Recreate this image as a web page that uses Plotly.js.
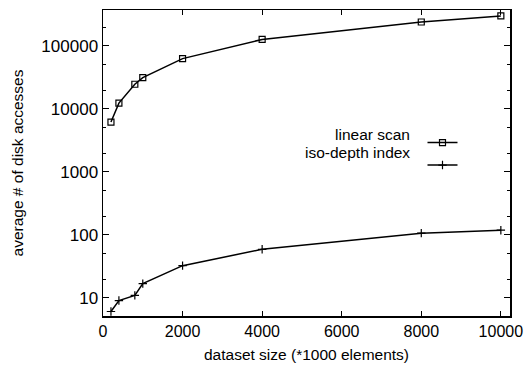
<!DOCTYPE html>
<html><head><meta charset="utf-8">
<script src="https://cdn.plot.ly/plotly-3.0.1.min.js"></script>
<style>html,body{margin:0;padding:0;background:#fff}</style>
</head><body><div id="chart" style="width:527px;height:368px"></div>
<script>
var sizes = [200, 400, 800, 1000, 2000, 4000, 8000, 10000];
var linearScan = [6200, 12400, 24700, 31500, 63000, 127000, 240000, 300000];
var isoDepth = [6.1, 9.1, 11.0, 16.9, 32.6, 59.3, 107, 119];
var seriesNames = ["linear scan", "iso-depth index"];
var xTicks = [0, 2000, 4000, 6000, 8000, 10000];
var yTicks = [10, 100, 1000, 10000, 100000];

var font = "Liberation Sans, Arial, Helvetica, sans-serif";
var traces = [
  {x: sizes, y: linearScan, name: " ", mode: "lines+markers", type: "scatter",
   line: {color: "#000", width: 1.5},
   marker: {symbol: "square-open", size: 6, color: "#000", line: {width: 1.2, color: "#000"}}},
  {x: sizes, y: isoDepth, name: " ", mode: "lines+markers", type: "scatter",
   line: {color: "#000", width: 1.5},
   marker: {symbol: "cross-thin-open", size: 6, color: "#000", line: {width: 1.2, color: "#000"}}}
];
var layout = {
  width: 527, height: 368,
  margin: {l: 103, r: 17, t: 10, b: 52},
  paper_bgcolor: "#fff", plot_bgcolor: "#fff",
  font: {family: font, size: 15, color: "#000"},
  showlegend: true,
  legend: {x: 0.785, y: 0.62, xanchor: "left", yanchor: "top", bgcolor: "rgba(0,0,0,0)",
           font: {size: 15}, tracegroupgap: 0, itemwidth: 30},
  xaxis: {range: [0, 10230], tickvals: xTicks, ticktext: xTicks.map(String),
          ticks: "inside", ticklen: 5, tickcolor: "#000", showgrid: false, zeroline: false,
          showline: true, linecolor: "#000", linewidth: 1.5, mirror: "ticks",
          tickfont: {size: 16}, title: {text: "dataset size (*1000 elements)", font: {size: 15.5}, standoff: 10}},
  yaxis: {type: "log", range: [0.714, 5.571], tickvals: yTicks, ticktext: yTicks.map(String),
          ticks: "inside", ticklen: 6, tickcolor: "#000", showgrid: false, zeroline: false,
          showline: true, linecolor: "#000", linewidth: 1.5, mirror: "ticks",
          minor: {dtick: "D2", ticks: "inside", ticklen: 3, tickcolor: "#000", showgrid: false},
          tickfont: {size: 17}, title: {text: "average # of disk accesses", font: {size: 15.5}, standoff: 14}},
  annotations: [
    {xref: "paper", yref: "paper", x: 0.758, y: 0.594, xanchor: "right", yanchor: "middle",
     text: seriesNames[0], showarrow: false, font: {size: 15.5, color: "#000"}},
    {xref: "paper", yref: "paper", x: 0.758, y: 0.535, xanchor: "right", yanchor: "middle",
     text: seriesNames[1], showarrow: false, font: {size: 15.5, color: "#000"}}
  ]
};
Plotly.newPlot("chart", traces, layout, {displayModeBar: false, staticPlot: true});
</script></body></html>
